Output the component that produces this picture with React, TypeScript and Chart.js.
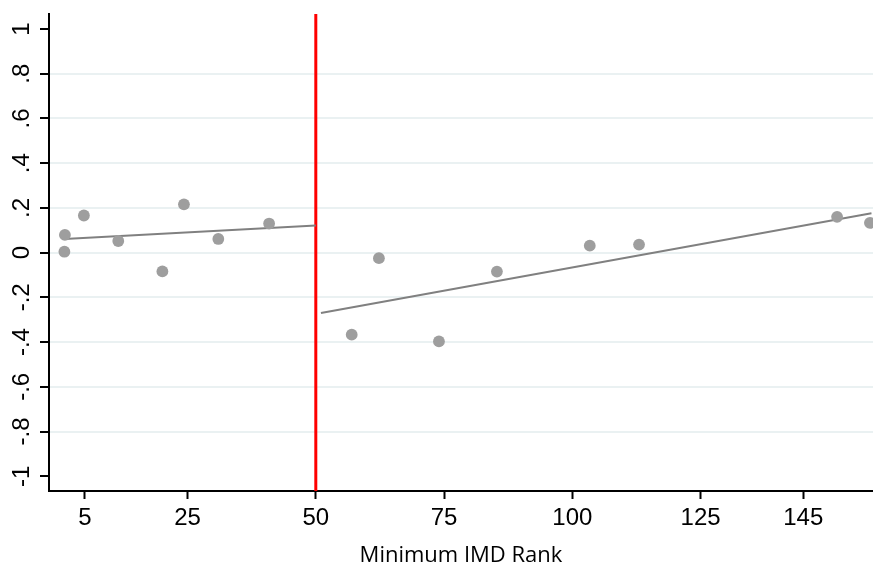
import React, { useEffect, useRef } from 'react';
import { Chart, registerables } from 'chart.js';

Chart.register(...registerables);

const xTickValues = [5, 25, 50, 75, 100, 125, 145];
const yTickValues = [-1, -0.8, -0.6, -0.4, -0.2, 0, 0.2, 0.4, 0.6, 0.8, 1];
const yTickLabels = ['-1', '-.8', '-.6', '-.4', '-.2', '0', '.2', '.4', '.6', '.8', '1'];
const xTitle = 'Minimum IMD Rank';
const cutoff = 50;

const belowX = [1.1, 1.0, 4.8, 11.5, 20.1, 24.3, 31.0, 40.9];
const belowY = [0.079, 0.004, 0.166, 0.052, -0.084, 0.216, 0.061, 0.13];
const aboveX = [57.0, 62.3, 74.0, 85.3, 103.4, 113.0, 151.6, 158.0];
const aboveY = [-0.367, -0.025, -0.397, -0.085, 0.031, 0.036, 0.16, 0.133];

const fitBelowX = [1, 50];
const fitBelowY = [0.061, 0.121];
const fitAboveX = [51, 158.3];
const fitAboveY = [-0.27, 0.176];

const xMin = -2;
const xMax = 158.6;
const yMin = -1.066;
const yMax = 1.067;

const zip = (xs: number[], ys: number[]) => xs.map((x, i) => ({ x, y: ys[i] }));

export default function App() {
  const ref = useRef<HTMLCanvasElement>(null);
  useEffect(() => {
    document.body.style.margin = '0';
    const chart = new Chart(ref.current as HTMLCanvasElement, {
      type: 'scatter',
      data: {
        datasets: [
          {
            label: 'cutoff',
            data: [{ x: cutoff, y: yMin }, { x: cutoff, y: yMax }],
            showLine: true,
            borderColor: '#ff0000',
            borderWidth: 3,
            pointRadius: 0,
            order: 3,
          },
          {
            label: 'fit below',
            data: zip(fitBelowX, fitBelowY),
            showLine: true,
            borderColor: '#808080',
            borderWidth: 2,
            pointRadius: 0,
            order: 2,
          },
          {
            label: 'fit above',
            data: zip(fitAboveX, fitAboveY),
            showLine: true,
            borderColor: '#808080',
            borderWidth: 2,
            pointRadius: 0,
            order: 2,
          },
          {
            label: 'below',
            data: zip(belowX, belowY),
            backgroundColor: '#9e9e9e',
            borderWidth: 0,
            pointRadius: 5.9,
            order: 1,
          },
          {
            label: 'above',
            data: zip(aboveX, aboveY),
            backgroundColor: '#9e9e9e',
            borderWidth: 0,
            pointRadius: 5.9,
            order: 1,
          },
        ],
      },
      options: {
        responsive: false,
        animation: false,
        layout: { autoPadding: false, padding: { top: 14, left: 0, right: 0, bottom: 0 } },
        plugins: { legend: { display: false }, tooltip: { enabled: false } },
        scales: {
          x: {
            type: 'linear',
            min: xMin,
            max: xMax,
            afterBuildTicks: (s: any) => {
              s.ticks = xTickValues.map((v) => ({ value: v }));
            },
            afterFit: (s: any) => {
              s.height = 73;
              s.paddingLeft = 0;
              s.paddingRight = 0;
            },
            ticks: {
              font: { family: 'Liberation Sans', size: 24 },
              color: '#000',
              padding: 5,
              autoSkip: false,
              maxRotation: 0,
              minRotation: 0,
              callback: (v: any) => String(v),
            },
            grid: {
              drawOnChartArea: false,
              drawTicks: true,
              tickLength: 8,
              tickWidth: 2,
              tickColor: '#000',
            },
            border: { display: true, color: '#000', width: 2 },
            title: {
              display: true,
              text: xTitle,
              font: { family: 'Open Sans', size: 22, lineHeight: 1 },
              color: '#000',
              padding: { top: 0, bottom: -3 },
            },
          },
          y: {
            type: 'linear',
            min: yMin,
            max: yMax,
            afterBuildTicks: (s: any) => {
              s.ticks = yTickValues.map((v) => ({ value: v }));
            },
            afterFit: (s: any) => {
              s.width = 49;
              s.paddingTop = 0;
              s.paddingBottom = 0;
            },
            ticks: {
              font: { family: 'Liberation Sans', size: 24 },
              color: '#000',
              padding: 4,
              autoSkip: false,
              minRotation: 90,
              maxRotation: 90,
              crossAlign: 'center',
              callback: (v: any) => {
                const i = yTickValues.findIndex((t) => Math.abs(t - v) < 1e-6);
                return i >= 0 ? yTickLabels[i] : '';
              },
            },
            grid: {
              color: (ctx: any) =>
                ctx.tick && Math.abs(Math.abs(ctx.tick.value) - 1) < 1e-6 ? 'rgba(0,0,0,0)' : '#eaf1f2',
              lineWidth: 2,
              drawTicks: true,
              tickLength: 9,
              tickWidth: 2,
              tickColor: '#000',
            },
            border: { display: true, color: '#000', width: 2 },
          },
        },
      },
    } as any);
    return () => chart.destroy();
  }, []);
  return <canvas ref={ref} width={873} height={564} style={{ display: 'block' }} />;
}
